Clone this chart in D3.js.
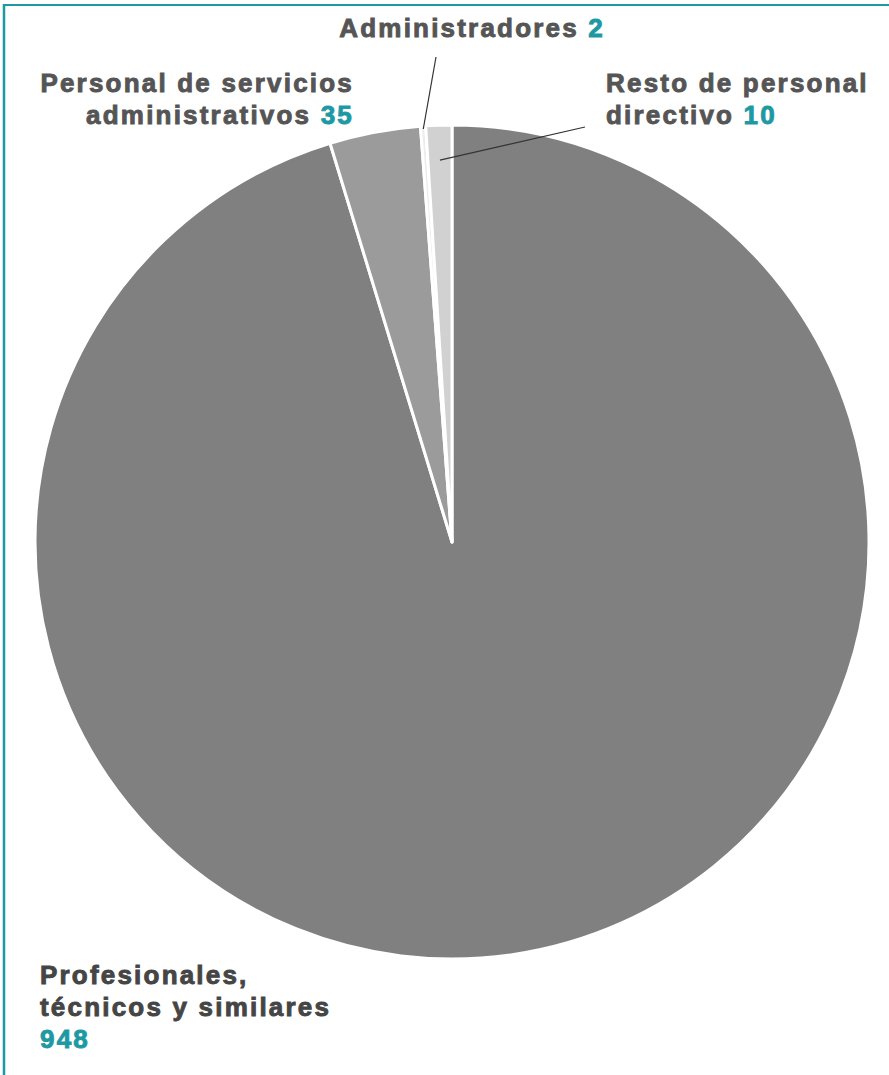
<!DOCTYPE html>
<html>
<head>
<meta charset="utf-8">
<script src="https://cdn.jsdelivr.net/npm/d3@7"></script>
<style>
  body { margin: 0; background: #fff; }
  text { font-family: "Liberation Sans", Arial, sans-serif; font-weight: bold; }
</style>
</head>
<body>
<svg id="chart" width="889" height="1075"></svg>
<script>
// data
var categories = ["Profesionales, técnicos y similares", "Personal de servicios administrativos", "Administradores", "Resto de personal directivo"];
var values = [948, 35, 2, 10];
var colors = ["#808080", "#9b9b9b", "#ececec", "#d1d1d1"];

// label lines (text split per line), last line gets the number
var labelLines = [
  ["Profesionales,", "técnicos y similares", ""],
  ["Personal de servicios", "administrativos "],
  ["Administradores "],
  ["Resto de personal", "directivo "]
];

var svg = d3.select("#chart");
var teal = "#1e99a4";
var grey = "#555555";

// frame lines top + left
svg.append("line").attr("x1", 3).attr("x2", 889).attr("y1", 5).attr("y2", 5)
  .attr("stroke", teal).attr("stroke-width", 2);
svg.append("line").attr("x1", 4).attr("x2", 4).attr("y1", 4).attr("y2", 1075)
  .attr("stroke", teal).attr("stroke-width", 2.5);

var cx = 452, cy = 542, r = 417;

var pie = d3.pie().sort(null).value(function(d){ return d; });
var arc = d3.arc().innerRadius(0).outerRadius(r);
var arcs = pie(values);

var g = svg.append("g").attr("transform", "translate(" + cx + "," + cy + ")");
g.selectAll("path").data(arcs).enter().append("path")
  .attr("d", arc)
  .attr("fill", function(d, i){ return colors[i]; })
  .attr("stroke", "#fff")
  .attr("stroke-width", 3)
  .attr("stroke-linejoin", "round");

// leader lines for the small slices
function edgePoint(d, rr){
  var a = (d.startAngle + d.endAngle) / 2;
  return [cx + Math.sin(a) * rr, cy - Math.cos(a) * rr];
}
var pAdm = edgePoint(arcs[2], r - 3);
svg.append("line").attr("x1", 436).attr("y1", 57).attr("x2", pAdm[0]).attr("y2", pAdm[1])
  .attr("stroke", "#333").attr("stroke-width", 1.2);
var pRes = edgePoint(arcs[3], r - 35);
svg.append("line").attr("x1", 585).attr("y1", 127).attr("x2", pRes[0]).attr("y2", pRes[1])
  .attr("stroke", "#333").attr("stroke-width", 1.2);

// labels
var labelPos = [
  { x: 40, y: 984, anchor: "start", dy: 32 },
  { x: 354, y: 92, anchor: "end", dy: 32 },
  { x: 605, y: 37, anchor: "end", dy: 32 },
  { x: 606, y: 92, anchor: "start", dy: 32 }
];

labelPos.forEach(function(p, i){
  var lines = labelLines[i];
  lines.forEach(function(line, j){
    var col = i === 0 ? "#454545" : grey;
    var t = svg.append("text")
      .attr("x", p.x).attr("y", p.y + j * p.dy)
      .attr("text-anchor", p.anchor)
      .attr("font-size", 26)
      .attr("letter-spacing", 2.2)
      .attr("fill", col)
      .attr("stroke", col)
      .attr("stroke-width", 0.9);
    if (line) t.append("tspan").text(line);
    if (j === lines.length - 1) {
      t.append("tspan").attr("fill", teal).attr("stroke", teal).text(values[i]);
    }
  });
});
</script>
</body>
</html>
